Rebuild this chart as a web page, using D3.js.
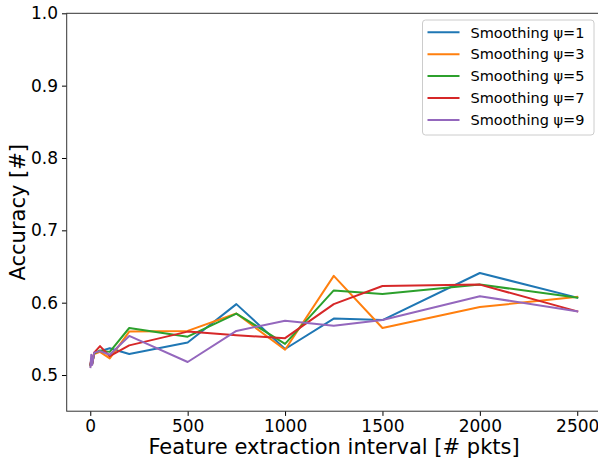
<!DOCTYPE html>
<html>
<head>
<meta charset="utf-8">
<script src="https://cdn.jsdelivr.net/npm/d3@7"></script>
<style>
  html, body { margin: 0; padding: 0; background: #fff; }
  svg { display: block; font-family: "DejaVu Sans", sans-serif; }
</style>
</head>
<body>
<svg id="chart" width="598" height="462"></svg>
<script>
// ---- Data ----
const intervals = [1, 5, 10, 20, 50, 100, 200, 500, 750, 1000, 1250, 1500, 2000, 2500];
const seriesNames = ["Smoothing ψ=1", "Smoothing ψ=3", "Smoothing ψ=5", "Smoothing ψ=7", "Smoothing ψ=9"];
const psi1 = [0.514, 0.520, 0.516, 0.530, 0.533, 0.537, 0.529, 0.545, 0.598, 0.536, 0.578, 0.576, 0.641, 0.607];
const psi3 = [0.513, 0.519, 0.515, 0.529, 0.532, 0.523, 0.560, 0.561, 0.585, 0.535, 0.637, 0.565, 0.594, 0.608];
const psi5 = [0.514, 0.521, 0.516, 0.530, 0.534, 0.532, 0.565, 0.553, 0.585, 0.543, 0.617, 0.612, 0.625, 0.607];
const psi7 = [0.515, 0.522, 0.517, 0.531, 0.540, 0.526, 0.541, 0.560, 0.555, 0.551, 0.598, 0.623, 0.625, 0.588];
const psi9 = [0.511, 0.528, 0.514, 0.531, 0.533, 0.528, 0.554, 0.518, 0.561, 0.575, 0.568, 0.576, 0.609, 0.588];
const seriesValues = [psi1, psi3, psi5, psi7, psi9];
const colors = ["#1f77b4", "#ff7f0e", "#2ca02c", "#d62728", "#9467bd"];
const xTicks = [0, 500, 1000, 1500, 2000, 2500];
const yTicks = [0.5, 0.6, 0.7, 0.8, 0.9, 1.0];

// ---- Layout ----
const svg = d3.select("#chart");
const mLeft = 66.7, mTop = 13.3, mBottom = 411.2, mRight = 601.4;

const x = d3.scaleLinear().domain([-121, 2624]).range([mLeft, mRight]);
const y = d3.scaleLinear().domain([0.45, 1.0]).range([mBottom, mTop]);

const plot = svg.append("g");
plot.append("clipPath").attr("id", "clip")
  .append("rect").attr("x", mLeft).attr("y", mTop).attr("width", mRight - mLeft).attr("height", mBottom - mTop);

// lines
const line = d3.line().x((d, i) => x(intervals[i])).y(d => y(d));
const linesG = plot.append("g").attr("clip-path", "url(#clip)");
seriesValues.forEach((vals, k) => {
  linesG.append("path")
    .datum(vals)
    .attr("d", line)
    .attr("fill", "none")
    .attr("stroke", colors[k])
    .attr("stroke-width", 2)
    .attr("stroke-linejoin", "round")
    .attr("stroke-linecap", "square");
});

// axes
const xAxis = d3.axisBottom(x).tickValues(xTicks).tickSize(4.7).tickPadding(4).tickFormat(d3.format("d"));
const yAxis = d3.axisLeft(y).tickValues(yTicks).tickSize(4.7).tickPadding(4).tickFormat(d3.format(".1f"));

const gx = svg.append("g").attr("transform", `translate(0,${mBottom})`).call(xAxis);
const gy = svg.append("g").attr("transform", `translate(${mLeft},0)`).call(yAxis);
[gx, gy].forEach(g => {
  g.select(".domain").remove();
  g.selectAll(".tick line").attr("stroke", "#000").attr("stroke-width", 1);
  g.selectAll(".tick text").attr("fill", "#000").attr("font-size", 17).attr("font-family", "DejaVu Sans");
});

// spines
svg.append("rect")
  .attr("x", mLeft).attr("y", mTop)
  .attr("width", mRight - mLeft).attr("height", mBottom - mTop)
  .attr("fill", "none").attr("stroke", "#333").attr("stroke-width", 1);

// axis labels
svg.append("text")
  .attr("x", (mLeft + mRight) / 2).attr("y", 454)
  .attr("text-anchor", "middle").attr("font-size", 21).attr("fill", "#000")
  .text("Feature extraction interval [# pkts]");
svg.append("text")
  .attr("transform", `translate(25,${(mTop + mBottom) / 2}) rotate(-90)`)
  .attr("text-anchor", "middle").attr("font-size", 21).attr("fill", "#000")
  .text("Accuracy [#]");

// legend
const lg = svg.append("g");
lg.append("rect")
  .attr("x", 422.5).attr("y", 20).attr("width", 171.5).attr("height", 115)
  .attr("rx", 3).attr("fill", "#fff").attr("fill-opacity", 0.8)
  .attr("stroke", "#ccc").attr("stroke-width", 1);
seriesNames.forEach((name, k) => {
  const yy = 32.3 + k * 21.9;
  lg.append("line").attr("x1", 427.5).attr("x2", 459.5).attr("y1", yy).attr("y2", yy)
    .attr("stroke", colors[k]).attr("stroke-width", 2);
  lg.append("text").attr("x", 470.5).attr("y", yy).attr("dy", "0.36em")
    .attr("font-size", 14.5).attr("fill", "#000").text(name);
});
</script>
</body>
</html>
